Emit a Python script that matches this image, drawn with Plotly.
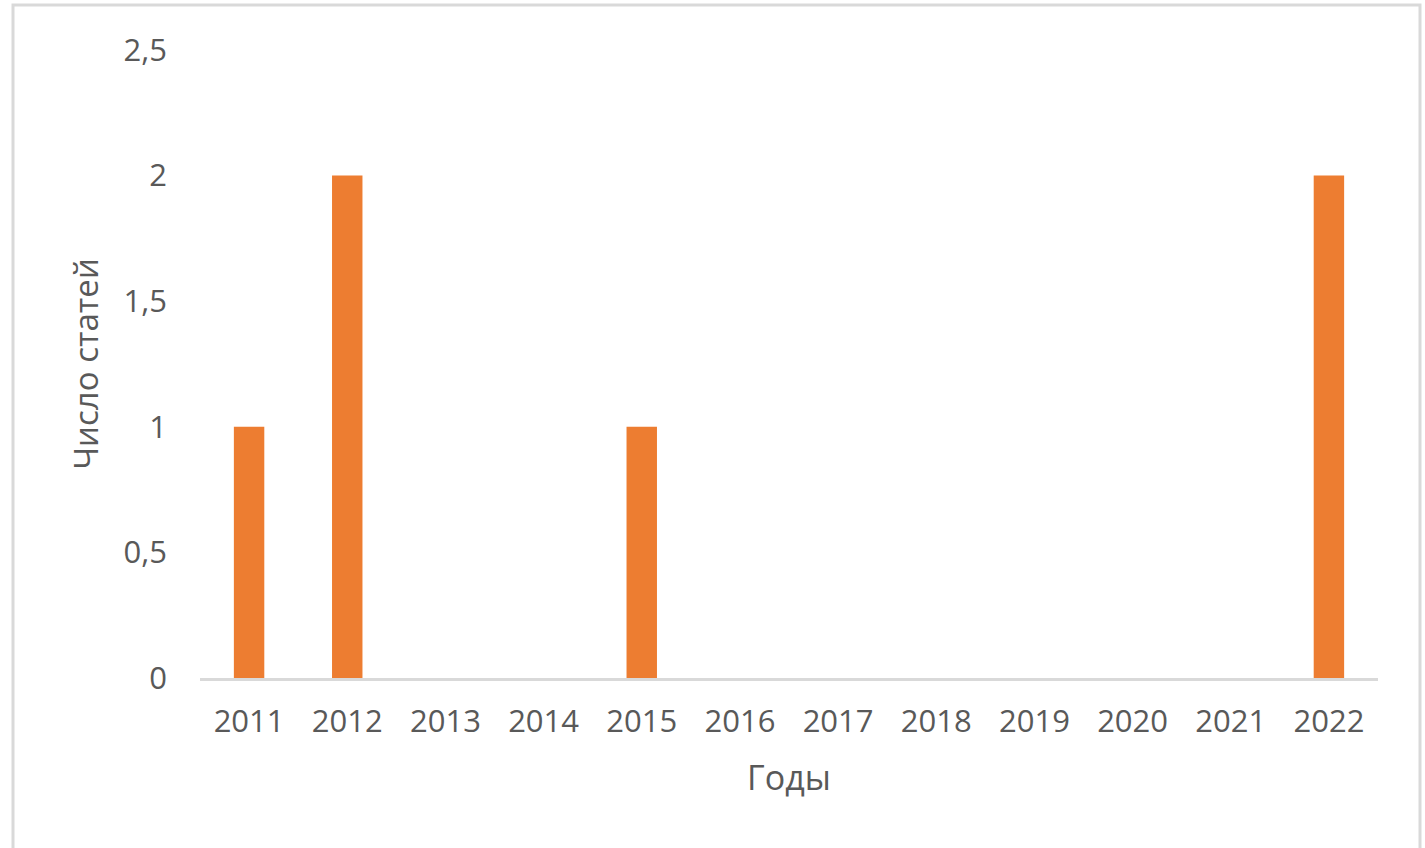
import plotly.graph_objects as go

years = ["2011", "2012", "2013", "2014", "2015", "2016", "2017", "2018", "2019", "2020", "2021", "2022"]
counts = [1, 2, 0, 0, 1, 0, 0, 0, 0, 0, 0, 2]
y_ticks = [0, 0.5, 1, 1.5, 2, 2.5]
y_tick_labels = ["0", "0,5", "1", "1,5", "2", "2,5"]

W, H = 1425, 848
L, R, T, B = 200, 47, 50, 170
pw, ph = W - L - R, H - T - B

def px_x(x):
    return (x - L) / pw

def px_y(y):
    return (H - B - y) / ph

font = "Open Sans"
txt = "#595959"

fig = go.Figure(go.Bar(x=years, y=counts, marker_color="#ED7D31", marker_line_width=0))

fig.update_layout(
    width=W, height=H,
    margin=dict(l=L, r=R, t=T, b=B, autoexpand=False),
    paper_bgcolor="white", plot_bgcolor="white",
    bargap=0.69,
    showlegend=False,
    font=dict(family=font, size=31, color=txt),
    xaxis=dict(
        type="category", showgrid=False, showline=True, linecolor="#D9D9D9", linewidth=3,
        ticks="", ticklabelstandoff=14, tickfont=dict(size=31, color=txt),
        title=dict(text="Годы", font=dict(size=34, color=txt), standoff=26),
        fixedrange=True,
    ),
    yaxis=dict(
        range=[0, 2.5], tickvals=y_ticks, ticktext=y_tick_labels, showgrid=False,
        zeroline=False, showline=False, ticks="", ticklabelstandoff=32,
        tickfont=dict(size=31, color=txt),
        title=dict(text="Число статей", font=dict(size=33, color=txt), standoff=14),
        fixedrange=True,
    ),
    shapes=[dict(
        type="rect", xref="paper", yref="paper",
        x0=px_x(13), x1=px_x(1420), y0=px_y(852), y1=px_y(5),
        line=dict(color="#D9D9D9", width=3), fillcolor="rgba(0,0,0,0)", layer="below",
    )],
)

fig.write_html("out.html")
